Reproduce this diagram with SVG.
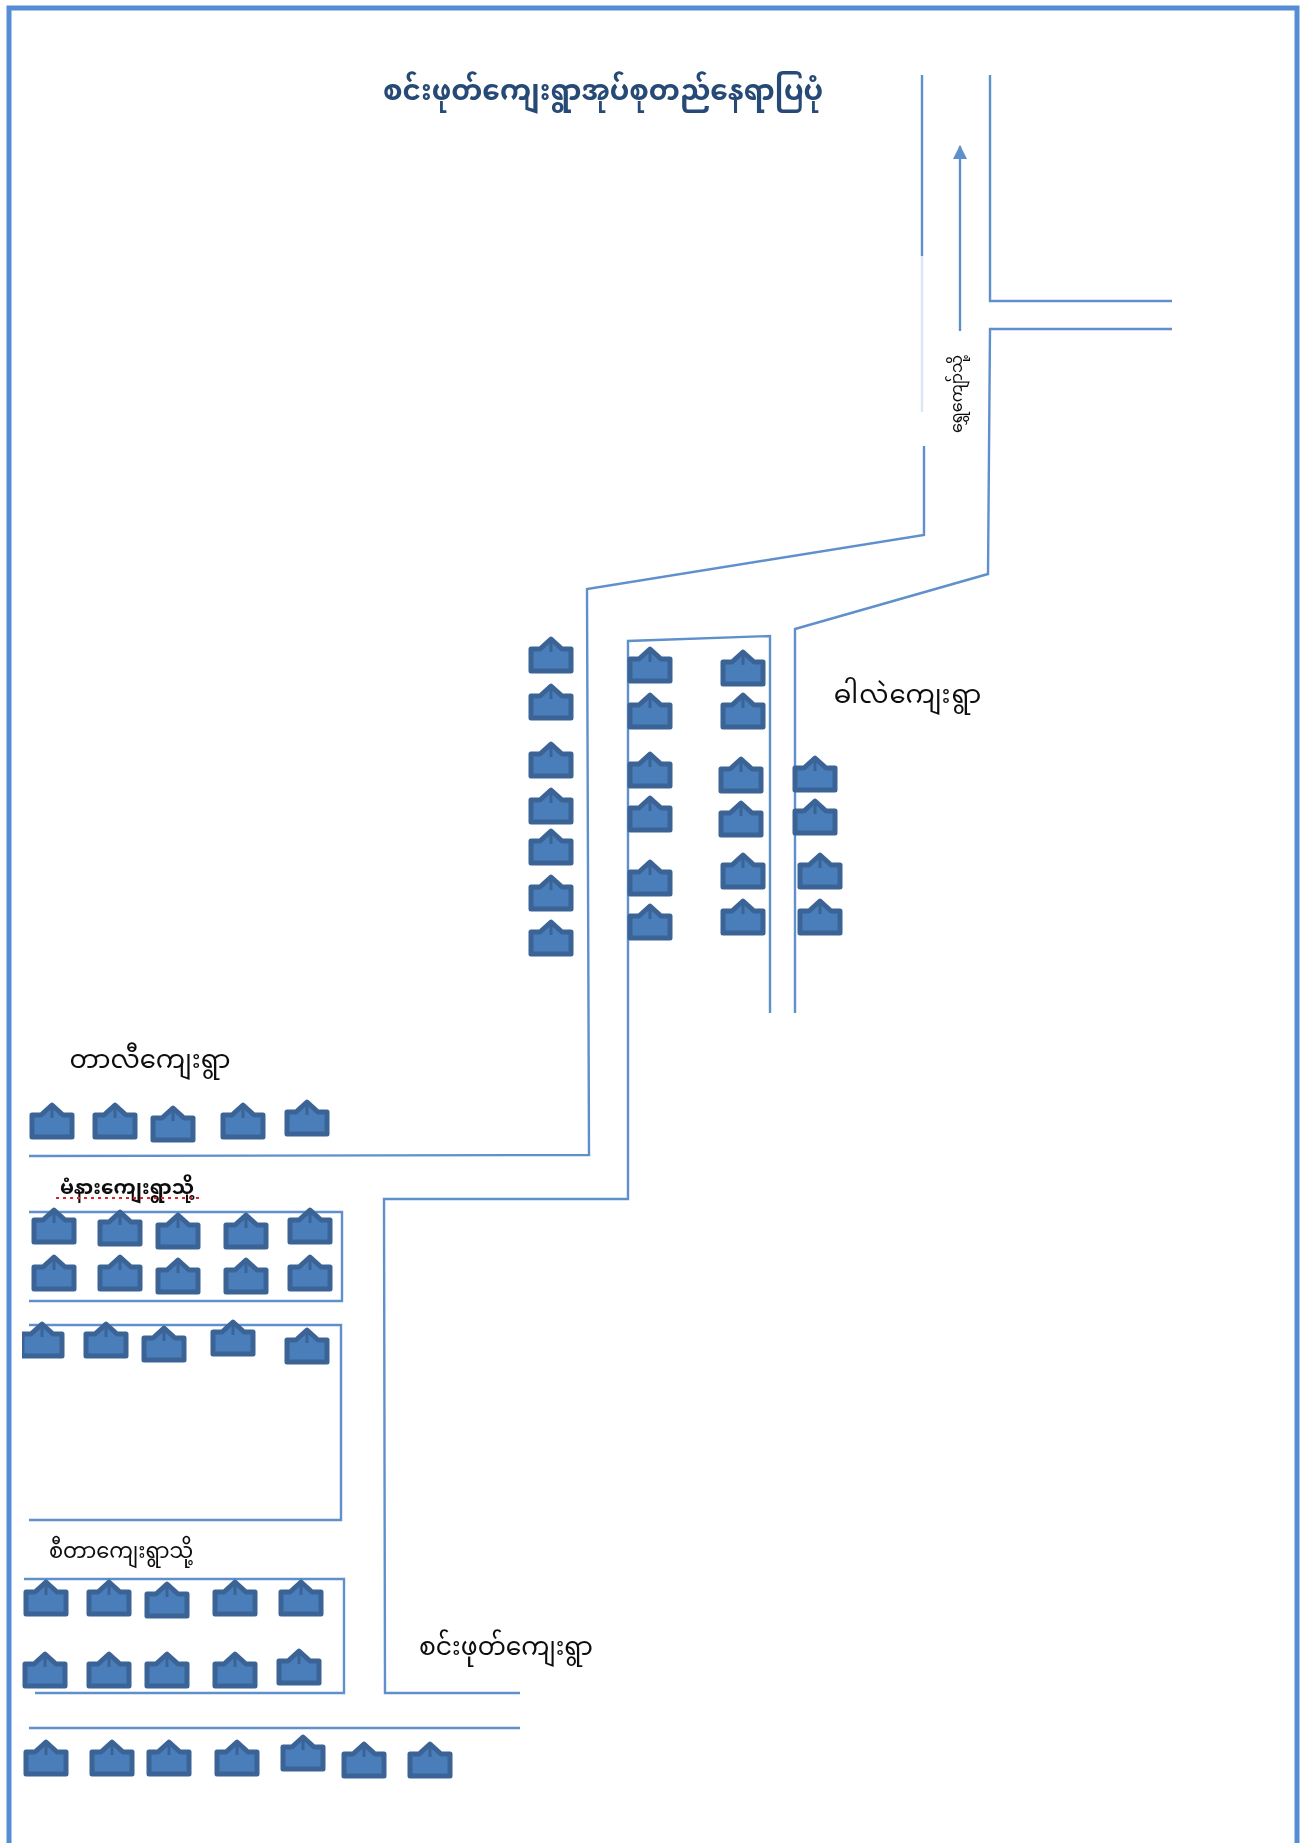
<svg xmlns="http://www.w3.org/2000/svg" width="1305" height="1843" viewBox="0 0 1305 1843">
<style>
.road{fill:none;stroke:#5f90cc;stroke-width:2.4}
.t{font-family:"Noto Sans Myanmar","Noto Sans","DejaVu Sans","Liberation Sans",sans-serif;fill:#111;text-anchor:middle}
.h{fill:#4a7ebb;stroke:#3a6496;stroke-width:5;stroke-linejoin:round}
</style>
<defs>
<filter id="soft" x="-2%" y="-2%" width="104%" height="104%"><feGaussianBlur stdDeviation="0.6"/></filter>
<clipPath id="edge"><rect x="22" y="1300" width="60" height="60"/></clipPath>
<marker id="a" markerWidth="16" markerHeight="16" refX="13" refY="7" orient="auto" markerUnits="userSpaceOnUse"><path d="M0,0L14,7L0,14Z" fill="#5f90cc"/></marker>
<g id="house"><path class="h" d="M0,3L11,13H20V35H-20V13H-11Z"/><path d="M0,5V16" stroke="#3a6496" stroke-width="3"/></g>
</defs>
<rect x="9" y="8" width="1288" height="1900" fill="#fff" stroke="#558ed5" stroke-width="5"/>
<g id="connectors" filter="url(#soft)">
<path class="road" d="M922,75V256"/>
<path class="road" d="M922,256V412" style="stroke:#dbe6f4"/>
<path class="road" d="M924,446V535L587,589L589,1155L29,1156"/>
<path class="road" d="M990,75V301H1172"/>
<path class="road" d="M1172,329H990L988,574L795,629V1013"/>
<path class="road" d="M770,1013V636L628,641V1199H384L385,1693H520"/>
<path class="road" d="M29,1212H342V1301H29"/>
<path class="road" d="M29,1325H341V1520H29"/>
<path class="road" d="M24,1579H344V1693H35"/>
<path class="road" d="M29,1728H520"/>
<path class="road" d="M960,331V146" marker-end="url(#a)"/>
</g>
<g id="houses" filter="url(#soft)">
<use href="#house" x="551" y="636"/><use href="#house" x="551" y="683"/><use href="#house" x="551" y="741"/><use href="#house" x="551" y="787"/><use href="#house" x="551" y="828"/><use href="#house" x="551" y="874"/><use href="#house" x="551" y="919"/>
<use href="#house" x="650" y="646"/><use href="#house" x="650" y="692"/><use href="#house" x="650" y="751"/><use href="#house" x="650" y="795"/><use href="#house" x="650" y="859"/><use href="#house" x="650" y="903"/>
<use href="#house" x="743" y="649"/><use href="#house" x="743" y="692"/><use href="#house" x="741" y="756"/><use href="#house" x="741" y="800"/><use href="#house" x="743" y="852"/><use href="#house" x="743" y="898"/>
<use href="#house" x="815" y="755"/><use href="#house" x="815" y="798"/><use href="#house" x="820" y="852"/><use href="#house" x="820" y="898"/>
<use href="#house" x="52" y="1102"/><use href="#house" x="115" y="1102"/><use href="#house" x="173" y="1105"/><use href="#house" x="243" y="1102"/><use href="#house" x="307" y="1099"/>
<use href="#house" x="54" y="1207"/><use href="#house" x="120" y="1209"/><use href="#house" x="178" y="1212"/><use href="#house" x="246" y="1212"/><use href="#house" x="310" y="1207"/>
<use href="#house" x="54" y="1254"/><use href="#house" x="120" y="1254"/><use href="#house" x="178" y="1257"/><use href="#house" x="246" y="1257"/><use href="#house" x="310" y="1254"/>
<g clip-path="url(#edge)"><use href="#house" x="42" y="1321"/></g><use href="#house" x="106" y="1321"/><use href="#house" x="164" y="1325"/><use href="#house" x="233" y="1319"/><use href="#house" x="307" y="1327"/>
<use href="#house" x="46" y="1579"/><use href="#house" x="109" y="1579"/><use href="#house" x="167" y="1581"/><use href="#house" x="235" y="1579"/><use href="#house" x="301" y="1579"/>
<use href="#house" x="45" y="1651"/><use href="#house" x="109" y="1651"/><use href="#house" x="167" y="1651"/><use href="#house" x="235" y="1651"/><use href="#house" x="299" y="1648"/>
<use href="#house" x="46" y="1739"/><use href="#house" x="112" y="1739"/><use href="#house" x="169" y="1739"/><use href="#house" x="237" y="1739"/><use href="#house" x="303" y="1734"/><use href="#house" x="364" y="1741"/><use href="#house" x="430" y="1741"/>
</g>
<g id="labels" filter="url(#soft)">
<text class="t" x="603" y="100" font-size="28" font-weight="700" style="fill:#254a75">စင်းဖုတ်ကျေးရွာအုပ်စုတည်နေရာပြပုံ</text>
<text class="t" x="908" y="703" font-size="26" letter-spacing="1">ဓါလဲကျေးရွာ</text>
<text class="t" x="150" y="1068" font-size="26">တာလီကျေးရွာ</text>
<text class="t" x="127" y="1194" font-size="20" font-weight="700">မံနားကျေးရွာသို့</text>
<path d="M56,1198H200" stroke="#e02020" stroke-width="2" stroke-dasharray="3 4" fill="none"/>
<text class="t" x="121" y="1558" font-size="21">စီတာကျေးရွာသို့</text>
<text class="t" x="506" y="1655" font-size="25">စင်းဖုတ်ကျေးရွာ</text>
<text class="t" transform="translate(962,394) rotate(-90)" font-size="16">ရွှေကျော်သို့</text>
</g>
</svg>
